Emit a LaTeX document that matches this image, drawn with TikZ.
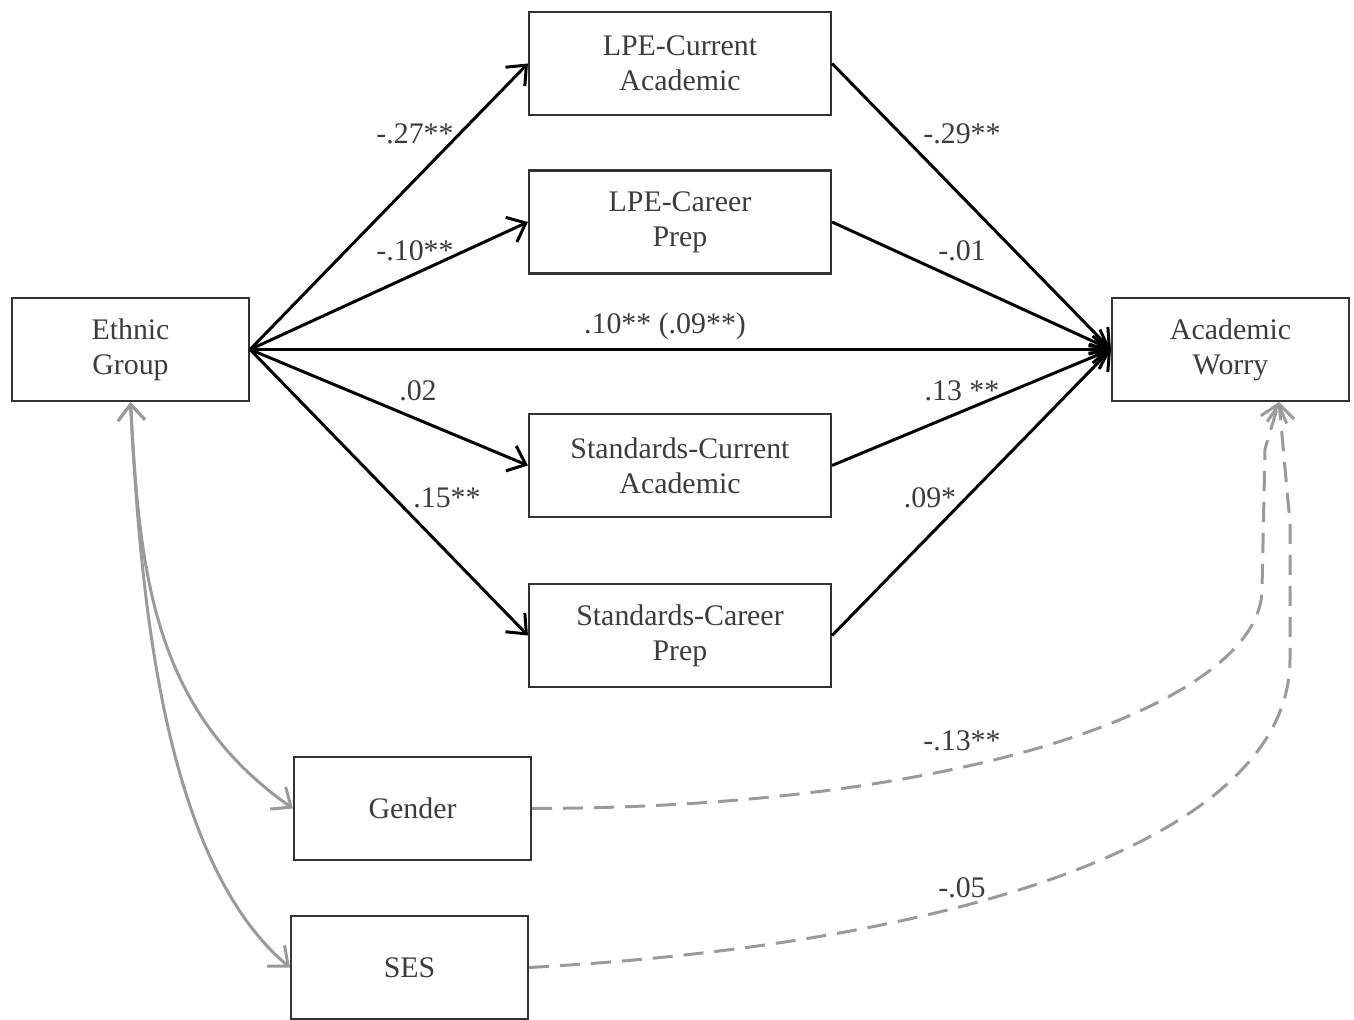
\documentclass[tikz,border=0pt]{standalone}
\usepackage{fontspec}
\setmainfont{Liberation Serif}
\usetikzlibrary{arrows.meta}
\definecolor{txt}{HTML}{3C3C3C}
\definecolor{cov}{HTML}{9A9A9A}

\begin{document}
\begin{tikzpicture}[>={Straight Barb[length=1.6mm, width=2.7mm]},
    line width=0.85pt, font=\fontsize{8.5}{10}\selectfont]
  \tikzset{var/.style={draw=black!80, line width=0.6pt, text=txt,
             align=center, minimum width=2.37cm, minimum height=1.03cm,
             inner sep=0pt},
           med/.style={var, minimum width=3.02cm},
           coef/.style={text=txt, inner sep=1pt},
           reg/.style={->, black},
           corr/.style={<->, cov},
           adj/.style={->, cov, dash pattern=on 2mm off 1.1mm}}
  \useasboundingbox (0,0) rectangle (13.54,10.19);
  % variables
  \node[var] (eg) at (1.305,6.695) {Ethnic\\Group};
  \node[med] (lca) at (6.80,9.555) {LPE-Current\\Academic};
  \node[med] (lcp) at (6.80,7.97) {LPE-Career\\Prep};
  \node[med] (sca) at (6.80,5.535) {Standards-Current\\Academic};
  \node[med] (scp) at (6.80,3.835) {Standards-Career\\Prep};
  \node[var] (aw) at (12.305,6.695) {Academic\\Worry};
  \node[var] (gen) at (4.125,2.105) {Gender};
  \node[var] (ses) at (4.095,0.515) {SES};
  \coordinate (awin) at ([xshift=4.85mm]aw.south);
  % paths
  \foreach \m in {lca,lcp,sca,scp}{
    \draw[reg] (eg.east) -- (\m.west);
    \draw[reg] (\m.east) -- (aw.west);
  }
  \draw[reg] (eg.east) -- (aw.west);
  % covariates
  \draw[corr] (eg.south) to[out=-87, in=145] (gen.west);
  \draw[corr] (eg.south) to[out=-87, in=140, looseness=0.75] (ses.west);
  \draw[adj] (gen.east) .. controls (9.8,2.11) and (12.62,3.2) .. (12.62,4.3)
    -- (12.65,5.7) -- (awin);
  \draw[adj] (ses.east) .. controls (9.6,0.75) and (12.9,1.8) .. (12.9,3.6)
    -- (12.9,4.96) -- (awin);
  % coefficients
  \node[coef] (c1) at (4.15,8.85) {-.27**};
  \node[coef] (c2) at (4.15,7.68) {-.10**};
  \node[coef] (c3) at (6.65,6.93) {.10** (.09**)};
  \node[coef] (c4) at (4.18,6.28) {.02};
  \node[coef] (c5) at (4.47,5.21) {.15**};
  \node[coef] (c6) at (9.62,8.85) {-.29**};
  \node[coef] (c7) at (9.62,7.68) {-.01};
  \node[coef] (c8) at (9.62,6.28) {.13 **};
  \node[coef] (c9) at (9.30,5.21) {.09*};
  \node[coef] (c10) at (9.62,2.78) {-.13**};
  \node[coef] (c11) at (9.62,1.31) {-.05};
\end{tikzpicture}
\end{document}
